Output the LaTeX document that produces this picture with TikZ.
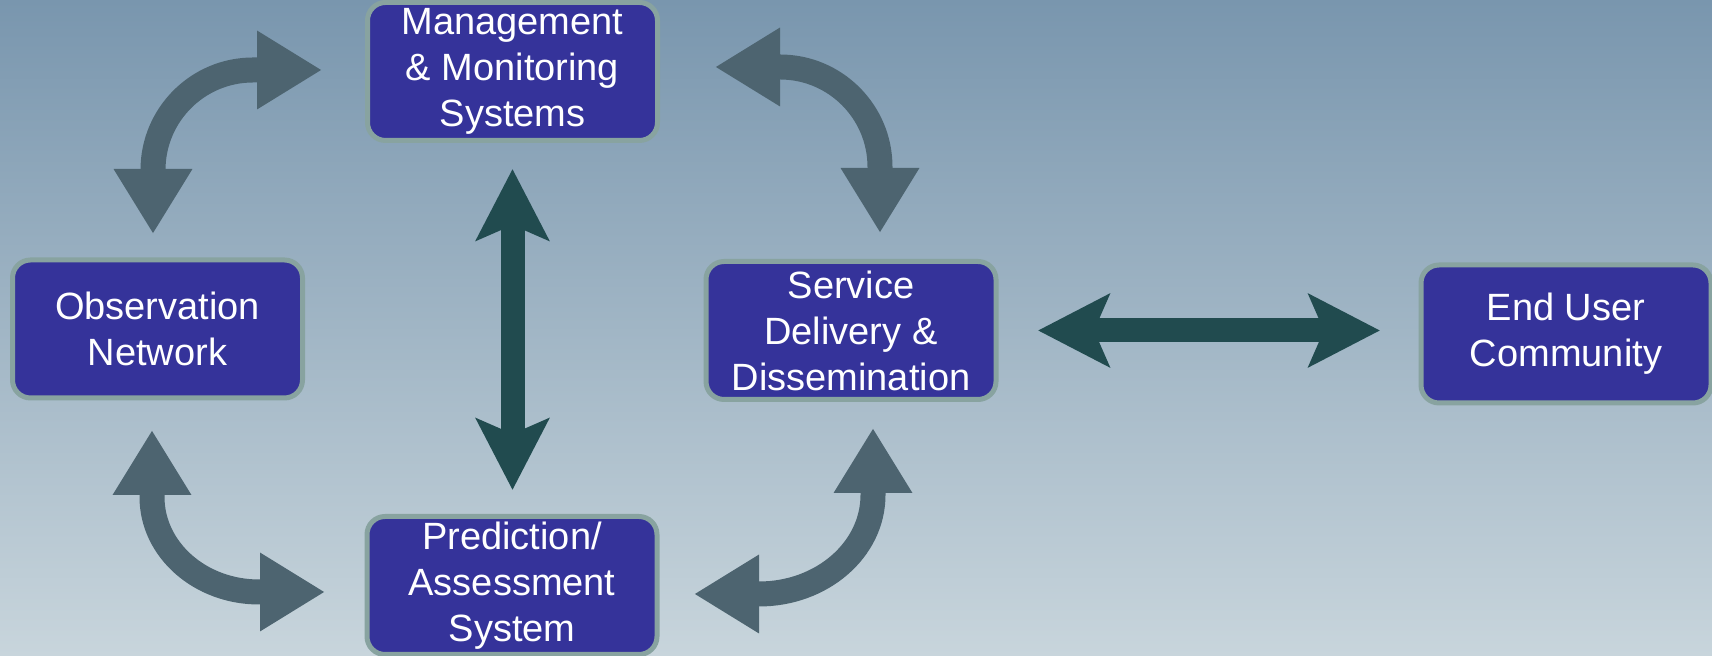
\documentclass[tikz,border=0pt]{standalone}
\usepackage{fontspec}
\setmainfont{Liberation Sans}
\usetikzlibrary{arrows.meta}

\definecolor{skyTop}{RGB}{121,150,174}
\definecolor{skyMid}{RGB}{161,181,195}
\definecolor{skyLow}{RGB}{200,213,220}
\definecolor{boxFill}{RGB}{53,51,154}
\definecolor{boxEdge}{RGB}{136,163,160}
\definecolor{linkDark}{RGB}{33,75,79}
\definecolor{loopGrey}{RGB}{77,100,112}

\begin{document}
\begin{tikzpicture}[x=0.5pt,y=0.5pt,
  box/.style={rounded corners=9pt,draw=boxEdge,line width=2.5pt,fill=boxFill,text=white,
    minimum width=145pt,minimum height=69pt,inner sep=0pt,align=center,
    font=\fontsize{19}{23}\selectfont},
  link/.style={linkDark,line width=12pt,
    arrows={Stealth[length=35.5pt,width=36pt,inset=7.5pt]-Stealth[length=35.5pt,width=36pt,inset=7.5pt]}},
  loop/.style={loopGrey,line width=12.5pt,
    arrows={Triangle[length=32.5pt,width=37pt]-Triangle[length=32.5pt,width=37pt]}}]
% background
\shade[top color=skyTop,middle color=skyMid,bottom color=skyLow] (0,0) rectangle (1712,656);
\useasboundingbox (0,0) rectangle (1712,656);
% the five blocks
\node[box] (mgmt) at (512.5,584.5) {Management\\\& Monitoring\\Systems};
\node[box] (obs) at (157.5,327) {Observation\\Network};
\node[box] (serv) at (851,325.5) {Service\\Delivery \&\\Dissemination};
\node[box] (user) at (1566,322) {End User\\Community};
\node[box] (pred) at (512,70.5) {Prediction/\\Assessment\\System};
% ends of the curved loop arrows
\coordinate (tl1) at (153,422);
\coordinate (tl2) at (322,586);
\coordinate (tr1) at (715,589);
\coordinate (tr2) at (880,423);
\coordinate (bl1) at (152,226);
\coordinate (bl2) at (325,64);
\coordinate (br1) at (873,228);
\coordinate (br2) at (694,62);
\draw[loop] (tl1) -- ++(0,64) arc[start angle=180,end angle=90,radius=50pt] -- (tl2);
\draw[loop] (tr1) -- ++(65,0) arc[start angle=90,end angle=0,radius=50pt] -- (tr2);
\draw[loop] (bl1) -- ++(0,-67) arc[start angle=180,end angle=270,x radius=53.5pt,y radius=47.5pt] -- (bl2);
\draw[loop] (br1) -- ++(0,-67) arc[start angle=0,end angle=-90,x radius=57pt,y radius=49.5pt] -- (br2);
% straight links
\draw[link,shorten <=13pt,shorten >=12pt] (mgmt.south) -- (mgmt.south |- pred.north);
\draw[link,shorten <=19.75pt,shorten >=19.25pt] (serv.east) -- (serv.east -| user.west);
\end{tikzpicture}
\end{document}
